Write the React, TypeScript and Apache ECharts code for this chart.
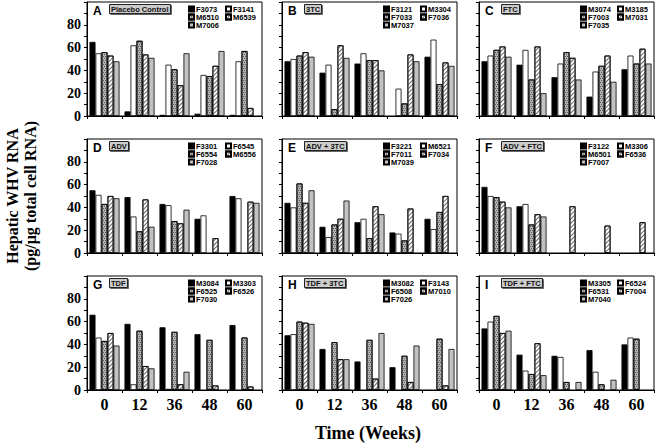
import React, { useEffect, useRef } from "react";
import * as echarts from "echarts";

const categories = ["0", "12", "36", "48", "60"];
const panelLetters = ["A", "B", "C", "D", "E", "F", "G", "H", "I"];
const panelTreatments = [
  "Placebo Control", "3TC", "FTC",
  "ADV", "ADV + 3TC", "ADV + FTC",
  "TDF", "TDF + 3TC", "TDF + FTC",
];

// animal names per panel (bar order: black, white, dotted, hatched, light gray)
const namesA = ["F3073", "F3141", "M6510", "M6539", "M7006"];
const namesB = ["F3121", "M3304", "F7033", "F7036", "M7037"];
const namesC = ["M3074", "M3185", "F7003", "M7031", "F7035"];
const namesD = ["F3301", "F6545", "F6554", "M6556", "F7028"];
const namesE = ["F3221", "M6521", "F7011", "F7034", "M7039"];
const namesF = ["F3122", "M3306", "M6501", "F6536", "F7007"];
const namesG = ["M3084", "M3303", "F6525", "F6526", "F7030"];
const namesH = ["M3082", "F3143", "F6508", "M7010", "F7026"];
const namesI = ["M3305", "F6524", "F6531", "F7004", "M7040"];

// values per animal over weeks 0, 12, 36, 48, 60 (null = no bar)
const valuesA = [
  [65, 4, 1, 2, 1],
  [55, 62, 45, 36, 48],
  [56, 66, 41, 35, 57],
  [53, 54, 27, 44, 7],
  [48, 51, 55, 57, null],
];
const valuesB = [
  [48, 38, 46, null, 52],
  [50, 45, 55, 24, 67],
  [53, 6, 49, 11, 28],
  [56, 62, 49, 54, 47],
  [52, 51, 40, 48, 44],
];
const valuesC = [
  [48, 45, 34, 17, 41],
  [53, 58, 46, 39, 53],
  [58, 32, 56, 44, 46],
  [61, 61, 51, 53, 59],
  [52, 20, 32, 30, 46],
];
const valuesD = [
  [55, 49, 43, 30, 50],
  [51, 32, 42, 33, 48],
  [43, 19, 28, null, null],
  [50, 47, 26, 13, 45],
  [48, 23, 38, null, 44],
];
const valuesE = [
  [44, 23, 27, 18, 30],
  [40, 14, 30, 17, 21],
  [61, 25, 13, 11, 36],
  [44, 30, 41, 39, 50],
  [55, 46, 34, null, null],
];
const valuesF = [
  [58, 41, null, null, null],
  [50, 43, null, null, null],
  [49, 25, null, null, null],
  [45, 34, 41, 24, 27],
  [40, 32, null, null, null],
];
const valuesG = [
  [66, 58, 55, 49, 57],
  [46, 5, 1, null, null],
  [43, 52, 51, 44, 46],
  [50, 21, 5, 4, 3],
  [39, 19, 16, null, null],
];
const valuesH = [
  [48, 36, 25, 20, null],
  [49, null, null, null, null],
  [60, 42, 44, 30, 45],
  [59, 27, 10, 7, 4],
  [58, 27, 50, 39, 36],
];
const valuesI = [
  [54, 31, 30, 35, 40],
  [60, 17, 29, 16, 46],
  [65, 14, 7, 5, 45],
  [50, 41, null, null, null],
  [52, 13, 7, 9, null],
];

const yTicks = [0, 20, 40, 60, 80];
const yTitle = "Hepatic WHV RNA\n(pg/µg total cell RNA)";
const xTitle = "Time (Weeks)";

const panelNames = [namesA, namesB, namesC, namesD, namesE, namesF, namesG, namesH, namesI];
const panelValues = [valuesA, valuesB, valuesC, valuesD, valuesE, valuesF, valuesG, valuesH, valuesI];

const colLefts = [87, 282, 479];
const rowTops = [2, 139, 276];
const gridW = 175;
const gridH = 114;

const barStyles: any[] = [
  { color: "#000", borderColor: "#000", borderWidth: 0.8 },
  { color: "#fff", borderColor: "#000", borderWidth: 0.8 },
  {
    color: "#b4b4b4",
    borderColor: "#000",
    borderWidth: 0.8,
    decal: {
      symbol: "rect",
      symbolSize: 1,
      dashArrayX: [[1, 1], [0, 1, 1, 0]],
      dashArrayY: [1, 1],
      color: "#5a5a5a",
      rotation: 0,
    },
  },
  {
    color: "#ffffff",
    borderColor: "#000",
    borderWidth: 0.8,
    decal: {
      symbol: "rect",
      symbolSize: 1,
      dashArrayX: [1, 0],
      dashArrayY: [1, 2],
      color: "#666",
      rotation: -Math.PI / 4,
    },
  },
  { color: "#c2c2c2", borderColor: "#000", borderWidth: 0.8 },
];

const serif = '"Liberation Serif", "Times New Roman", serif';
const sans = '"Liberation Sans", Arial, sans-serif';

export default function App() {
  const ref = useRef<HTMLDivElement>(null);
  useEffect(() => {
    if (!ref.current) return;
    const chart = echarts.init(ref.current, undefined, { renderer: "svg" });
    const grids: any[] = [];
    const xAxes: any[] = [];
    const yAxes: any[] = [];
    const series: any[] = [];
    const legends: any[] = [];
    const titles: any[] = [];
    for (let p = 0; p < 9; p++) {
      const r = Math.floor(p / 3);
      const c = p % 3;
      const left = colLefts[c];
      const top = rowTops[r];
      grids.push({
        left, top, width: gridW, height: gridH,
        show: true, borderColor: "#000", borderWidth: 1,
        backgroundColor: "transparent", containLabel: false,
      });
      xAxes.push({
        type: "category", gridIndex: p, data: categories, boundaryGap: true,
        axisLine: { show: true, lineStyle: { color: "#000", width: 1 } },
        axisTick: { show: true, length: 3, inside: false, lineStyle: { color: "#000" } },
        axisLabel: {
          show: r === 2, color: "#000", fontFamily: serif, fontWeight: "bold",
          fontSize: 16, margin: 6,
        },
        splitLine: { show: false },
      });
      yAxes.push({
        type: "value", gridIndex: p, min: 0, max: 100, interval: 10,
        axisLine: { show: true, lineStyle: { color: "#000", width: 1 } },
        axisTick: { show: true, length: 3, inside: false, lineStyle: { color: "#000" } },
        splitLine: { show: false },
        axisLabel: {
          show: c === 0, color: "#000", fontFamily: serif, fontWeight: "bold",
          fontSize: 14, margin: 6,
          formatter: (v: number) => (yTicks.indexOf(v) >= 0 ? String(v) : ""),
        },
      });
      const names = panelNames[p];
      const vals = panelValues[p];
      for (let k = 0; k < 5; k++) {
        series.push({
          type: "bar", name: names[k], xAxisIndex: p, yAxisIndex: p,
          data: vals[k].map((v) => (v == null ? "-" : v)),
          barWidth: 6, barGap: "0%",
          itemStyle: barStyles[k],
          emphasis: { disabled: true },
        });
      }
      const legendCommon = {
        orient: "vertical", top: top + 3, padding: 0, itemGap: 0,
        itemWidth: 5, itemHeight: 5, icon: "rect", selectedMode: false,
        textStyle: {
          fontSize: 7.5, fontWeight: "bold", fontFamily: sans, color: "#000",
          lineHeight: 7.4, padding: [0, 0, 0, -3],
        },
      };
      legends.push({ ...legendCommon, left: left + 101, data: [names[0], names[2], names[4]] });
      legends.push({ ...legendCommon, left: left + 138, data: [names[1], names[3]] });
      titles.push({
        text: panelLetters[p], left: left + 6, top: top + 3, padding: 0,
        textStyle: { fontSize: 12, fontWeight: "bold", fontFamily: sans, color: "#000" },
      });
      titles.push({
        text: panelTreatments[p], left: left + 22, top: top + 2, padding: [1, 2, 0, 2],
        backgroundColor: "#cccccc", borderColor: "#222", borderWidth: 1,
        shadowColor: "rgba(0,0,0,0.6)", shadowOffsetX: 1, shadowOffsetY: 1, shadowBlur: 0,
        textStyle: { fontSize: 7.5, fontWeight: "bold", fontFamily: sans, color: "#111", lineHeight: 9 },
      });
    }
    chart.setOption({
      animation: false,
      backgroundColor: "#fff",
      title: titles,
      legend: legends,
      grid: grids,
      xAxis: xAxes,
      yAxis: yAxes,
      series,
      graphic: [
        {
          type: "text", x: 21, y: 196, rotation: Math.PI / 2,
          style: {
            text: yTitle, font: `bold 16px ${serif}`, fill: "#000",
            textAlign: "center", textVerticalAlign: "middle",
            align: "center", verticalAlign: "middle", lineHeight: 18,
          },
        },
        {
          type: "text", x: 368, y: 433,
          style: {
            text: xTitle, font: `bold 18px ${serif}`, fill: "#000",
            textAlign: "center", textVerticalAlign: "middle",
            align: "center", verticalAlign: "middle",
          },
        },
      ],
    });
    return () => chart.dispose();
  }, []);
  return (
    <div
      ref={ref}
      style={{ position: "fixed", left: 0, top: 0, width: 656, height: 445, background: "#fff" }}
    />
  );
}
